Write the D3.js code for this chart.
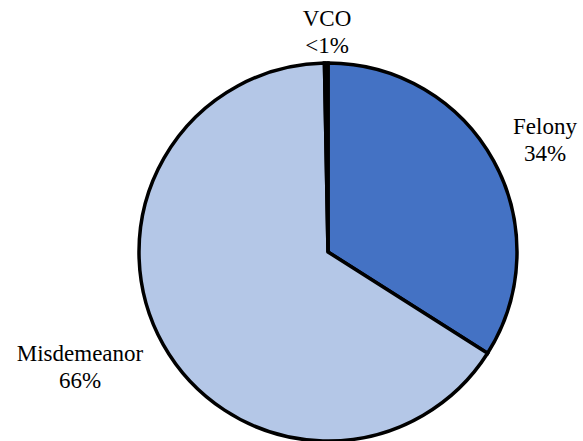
<!DOCTYPE html>
<html>
<head>
<meta charset="utf-8">
<script src="https://cdn.jsdelivr.net/npm/d3@7"></script>
<style>
  body { margin: 0; background: #fff; }
</style>
</head>
<body>
<svg id="chart" width="583" height="441"></svg>
<script>
var categories = ["Felony", "Misdemeanor", "VCO"];
var values = [34, 65.7, 0.3];
var pctLabels = ["34%", "66%", "<1%"];
var colors = ["#4472c4", "#b4c7e7", "#1f3864"];

var width = 583, height = 441;
var cx = 328, cy = 252, radius = 189;

var svg = d3.select("#chart");
var g = svg.append("g").attr("transform", "translate(" + cx + "," + cy + ")");

var data = categories.map(function(c, i) { return { name: c, value: values[i], label: pctLabels[i], color: colors[i] }; });

var pie = d3.pie().sort(null).value(function(d) { return d.value; });
var arc = d3.arc().innerRadius(0).outerRadius(radius);

g.selectAll("path")
  .data(pie(data))
  .enter()
  .append("path")
    .attr("d", arc)
    .attr("fill", function(d) { return d.data.color; })
    .attr("stroke", "#000")
    .attr("stroke-width", 3.5)
    .attr("stroke-linejoin", "miter");

// label positions (outside the pie)
var labelPos = {
  "Felony": [545, 134],
  "Misdemeanor": [80, 361],
  "VCO": [327, 26]
};

var labels = svg.append("g")
  .selectAll("text")
  .data(data)
  .enter()
  .append("text")
    .attr("text-anchor", "middle")
    .style("font-family", "'Liberation Serif', 'Times New Roman', serif")
    .style("font-size", "23px")
    .attr("fill", "#000")
    .attr("x", function(d) { return labelPos[d.name][0]; })
    .attr("y", function(d) { return labelPos[d.name][1]; });

labels.append("tspan")
  .attr("x", function(d) { return labelPos[d.name][0]; })
  .text(function(d) { return d.name; });
labels.append("tspan")
  .attr("x", function(d) { return labelPos[d.name][0]; })
  .attr("dy", 27)
  .text(function(d) { return d.label; });
</script>
</body>
</html>
